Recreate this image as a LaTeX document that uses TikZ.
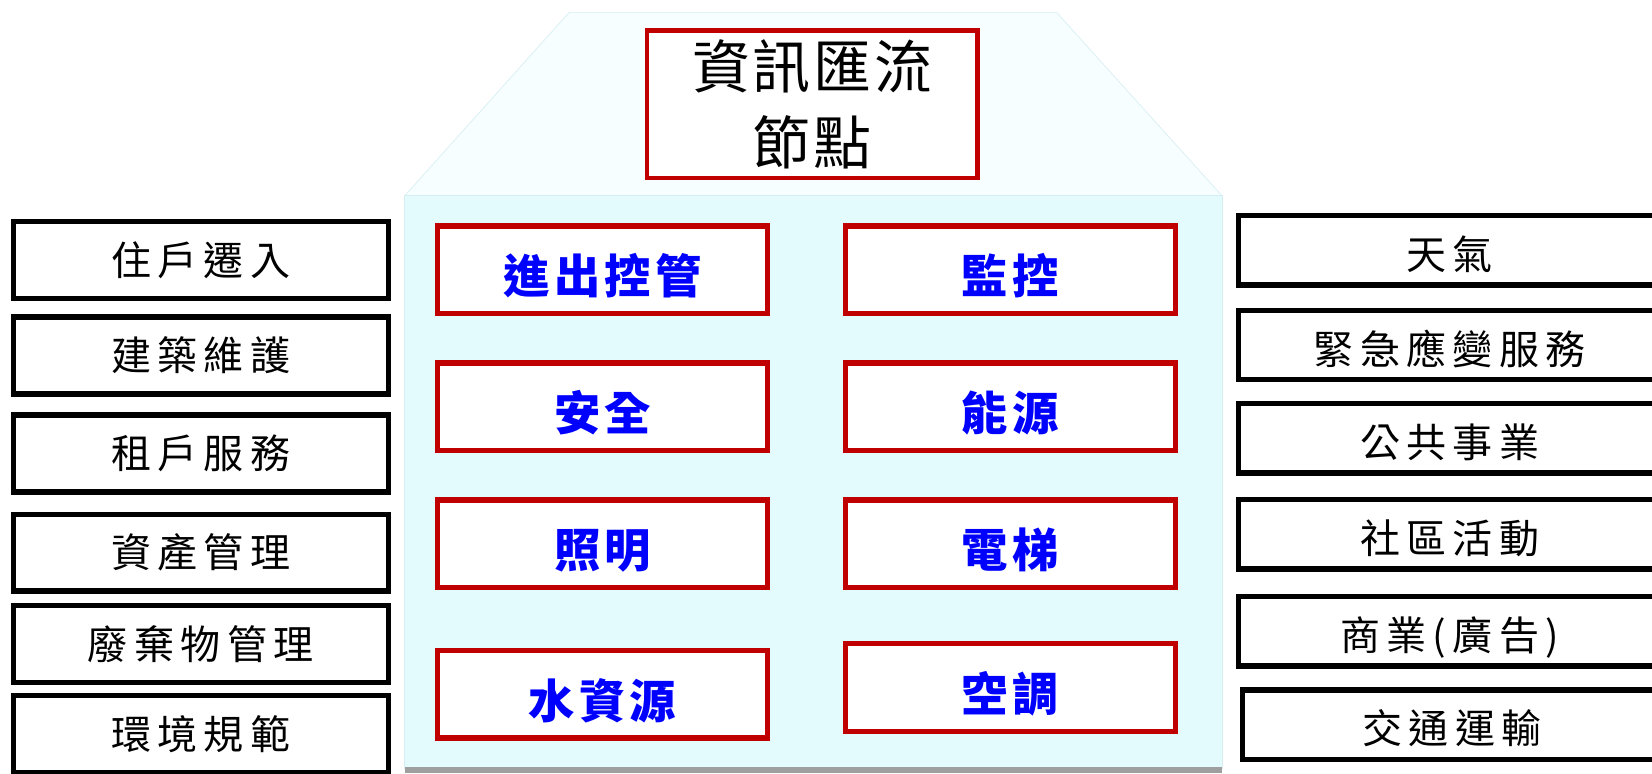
\documentclass[tikz,border=0pt]{standalone}
\usepackage{fontspec}
\newfontfamily\cjk{Noto Sans CJK TC}
\newfontfamily\cjksp[LetterSpace=16]{Noto Sans CJK TC}
\newfontfamily\cjkmid[LetterSpace=9]{Noto Sans CJK TC}
\newfontfamily\cjkti[LetterSpace=5]{Noto Sans CJK TC}
\definecolor{dred}{RGB}{192,0,0}
\definecolor{bodyfill}{RGB}{228,251,253}
\definecolor{rooffill}{RGB}{246,254,255}
\definecolor{edgecol}{RGB}{214,238,242}
\tikzset{
  outbox/.style={draw=black, line width=5pt, fill=white, inner sep=0pt,
    font=\cjksp\fontsize{38}{38}\selectfont},
  lbox/.style={outbox, minimum width=356pt, minimum height=73pt},
  rbox/.style={outbox, minimum width=401pt, minimum height=66pt,
    text height=36pt, text depth=0pt},
  ibox/.style={draw=dred, line width=5pt, fill=white, inner sep=0pt,
    minimum width=313pt, minimum height=83pt, text=blue,
    text height=45pt, text depth=0pt,
    font=\cjkmid\bfseries\fontsize{44}{44}\selectfont},
  titlebox/.style={draw=dred, line width=4.5pt, fill=white, inner sep=0pt,
    minimum width=314pt, minimum height=140pt, align=center,
    font=\cjkti\fontsize{55}{72}\selectfont}
}
\begin{document}
\begin{tikzpicture}[x=1pt,y=-1pt]
\clip (0,0) rectangle (1568,734);
\fill[white] (0,0) rectangle (1568,734);
% house
\filldraw[fill=rooffill, draw=edgecol, line width=0.6pt]
  (540,12) -- (1003,12) -- (1160,186) -- (384,186) -- cycle;
\filldraw[fill=bodyfill, draw=edgecol, line width=1pt]
  (384,186) rectangle (1160,729);
\fill[gray!75] (384,728) rectangle (1160,734);
% title
\node[titlebox] (title) at (771,99) {資訊匯流\\節點};
% inner boxes
\node[ibox] (i1) at (572,256) {進出控管};
\node[ibox] (i2) at (959,256) {監控};
\node[ibox] (i3) at (572,386) {安全};
\node[ibox] (i4) at (959,386) {能源};
\node[ibox] (i5) at (572,516) {照明};
\node[ibox] (i6) at (959,516) {電梯};
\node[ibox] (i7) at (572,659) {水資源};
\node[ibox] (i8) at (959,652.5) {空調};
% left boxes
\node[lbox] (l1) at (190.5,247) {住戶遷入};
\node[lbox] (l2) at (190.5,337.5) {建築維護};
\node[lbox] (l3) at (190.5,430.5) {租戶服務};
\node[lbox] (l4) at (190.5,524.5) {資產管理};
\node[lbox] (l5) at (190.5,611) {廢棄物管理};
\node[lbox] (l6) at (190.5,696.5) {環境規範};
% right boxes
\node[rbox] (r1) at (1376,237.5) {天氣};
\node[rbox] (r2) at (1376,327.5) {緊急應變服務};
\node[rbox] (r3) at (1376,416) {公共事業};
\node[rbox] (r4) at (1376,507) {社區活動};
\node[rbox] (r5) at (1376,599) {商業(廣告)};
\node[rbox, minimum width=397pt] (r6) at (1378,688) {交通運輸};
\end{tikzpicture}
\end{document}
